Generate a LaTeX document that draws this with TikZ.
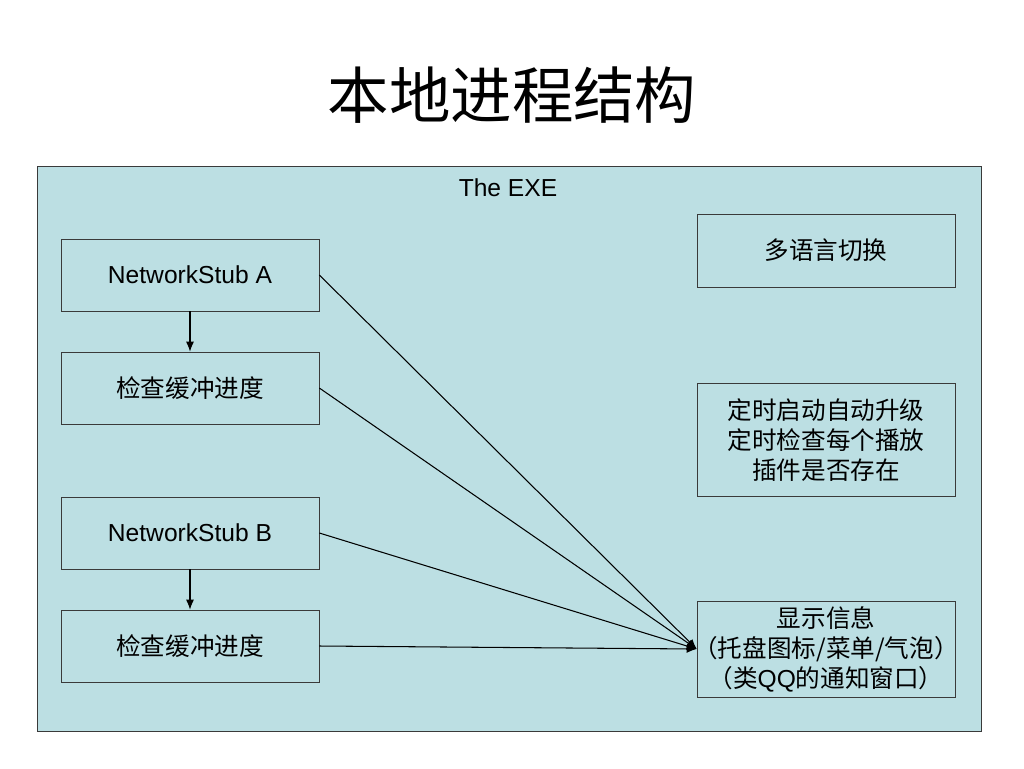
\documentclass[tikz,border=0pt]{standalone}
\usepackage{fontspec}
\setmainfont{Liberation Sans}
\newfontfamily\cjk{Noto Sans CJK SC}
\usepackage{tikz}
\usetikzlibrary{arrows.meta}

\definecolor{fondexe}{HTML}{BCDFE3}
\definecolor{bord}{HTML}{3A3A3A}

\tikzset{
	boite/.style={draw=bord, fill=fondexe, minimum width=5.16cm, inner sep=0pt,
		font=\fontsize{14}{17}\selectfont, align=center},
	fleche/.style={-{Latex[length=2mm, width=1.6mm]}, line width=0.6pt, black}
}
\newcommand{\po}{\kern-.45em（}
\newcommand{\pf}{）\kern-.45em}

\begin{document}
\begin{tikzpicture}[x=0.02cm, y=-0.02cm]
		\useasboundingbox[fill=white] (0, 0) rectangle (1024, 768);

		% titre
		\node (titre) at (512, 95) {\cjk\fontsize{35}{40}\selectfont 本地进程结构};

		% cadre exe
		\draw[draw=bord, fill=fondexe] (37, 166) rectangle (981, 731);
		\node[font=\fontsize{14}{17}\selectfont] (exe) at (508, 188) {The EXE};

		% colonne gauche
		\node[boite, minimum height=1.44cm] (stubA) at (190, 275) {NetworkStub A};
		\node[boite, minimum height=1.44cm] (checkA) at (190, 388) {\cjk 检查缓冲进度};
		\node[boite, minimum height=1.44cm] (stubB) at (190, 533) {NetworkStub B};
		\node[boite, minimum height=1.44cm] (checkB) at (190, 646) {\cjk 检查缓冲进度};

		% colonne droite
		\node[boite, minimum height=1.46cm] (langue) at (826, 250.5) {\cjk 多语言切换};
		\node[boite, minimum height=2.26cm] (minuteur) at (826, 440) {\cjk 定时启动自动升级\\\cjk 定时检查每个播放\\\cjk 插件是否存在};
		\node[boite, minimum height=1.92cm] (info) at (826, 649) {\cjk 显示信息\\\cjk \po 托盘图标/菜单/气泡\pf\\\cjk \po 类{\rmfamily QQ}的通知窗口\pf};

		% fleches verticales
		\draw[fleche] (stubA) -- (checkA);
		\draw[fleche] (stubB) -- (checkB);

		% fleches vers info
		\draw[fleche] (stubA.east) -- (info.west);
		\draw[fleche] (checkA.east) -- (info.west);
		\draw[fleche] (stubB.east) -- (info.west);
		\draw[fleche] (checkB.east) -- (info.west);

		\end{tikzpicture}
\end{document}
